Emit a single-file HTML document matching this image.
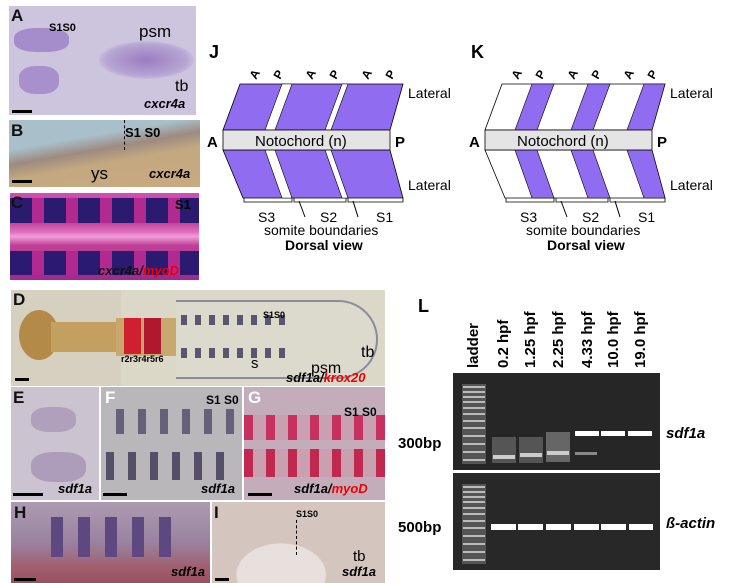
<!DOCTYPE html>
<html><head><meta charset="utf-8"><style>
body{margin:0;width:729px;height:583px;background:#fff;position:relative;overflow:hidden;font-family:"Liberation Sans",Arial,sans-serif}
.p{position:absolute;overflow:hidden}
.t{position:absolute;font-weight:bold;white-space:nowrap}
.lab{position:absolute;font-weight:bold;font-size:17px;color:#111}
.it{font-style:italic;font-weight:bold;font-size:13px;position:absolute;white-space:nowrap}
.bar{position:absolute;height:3px;background:#000}
</style></head><body>

<!-- A -->
<div class="p" style="left:9px;top:6px;width:187px;height:109px;background:#cdc5de">
 <div style="position:absolute;left:90px;top:35px;width:95px;height:38px;border-radius:50%;background:radial-gradient(ellipse,#9a7cc0 0%,#b7a6d4 60%,transparent 75%)"></div>
 <div style="position:absolute;left:5px;top:22px;width:55px;height:24px;border-radius:40%;background:#a58ccb"></div>
 <div style="position:absolute;left:10px;top:60px;width:40px;height:28px;border-radius:40%;background:#a890cc"></div>
 <div class="t" style="left:40px;top:16px;font-size:11px">S1S0</div>
 <div class="t" style="left:130px;top:16px;font-size:17px;font-weight:normal">psm</div>
 <div class="t" style="left:166px;top:72px;font-size:16px;font-weight:normal">tb</div>
 <div class="it" style="left:135px;top:90px">cxcr4a</div>
 <div class="bar" style="left:3px;top:104px;width:20px"></div>
 <div class="lab" style="left:2px;top:0">A</div>
</div>
<!-- B -->
<div class="p" style="left:9px;top:120px;width:191px;height:67px;background:linear-gradient(170deg,#a9c0cc 0%,#a9bfca 30%,#9d8b80 45%,#c4a880 60%,#c8aa80 100%)">
 <div class="t" style="left:116px;top:5px;font-size:13px">S1 S0</div>
 <div style="position:absolute;left:115px;top:0;height:30px;border-left:1px dashed #000"></div>
 <div class="t" style="left:82px;top:44px;font-size:17px;font-weight:normal">ys</div>
 <div class="it" style="left:140px;top:46px">cxcr4a</div>
 <div class="bar" style="left:3px;top:60px;width:20px"></div>
 <div class="lab" style="left:2px;top:1px">B</div>
</div>
<!-- C -->
<div class="p" style="left:10px;top:193px;width:189px;height:87px;background:linear-gradient(180deg,#d050b8 0%,#b8308e 30%,#e070c0 45%,#f0a0d8 50%,#c04098 60%,#a02890 100%)">
 <div style="position:absolute;left:0;top:5px;width:189px;height:25px;background:repeating-linear-gradient(90deg,#2a1a70 0 22px,#b02a90 22px 34px)"></div>
 <div style="position:absolute;left:0;top:58px;width:189px;height:24px;background:repeating-linear-gradient(90deg,#2a1a70 0 22px,#b02a90 22px 34px)"></div>
 <div class="t" style="left:165px;top:4px;font-size:13px">S1</div>
 <div class="it" style="left:88px;top:70px;color:#111">cxcr4a/<span style="color:#e00">myoD</span></div>
 <div class="lab" style="left:1px;top:0">C</div>
</div>
<!-- D -->
<div class="p" style="left:11px;top:290px;width:374px;height:96px;background:#dcd8c8">
 <div style="position:absolute;left:0;top:0;width:110px;height:96px;background:#d6d0c0"></div>
 <div style="position:absolute;left:8px;top:20px;width:40px;height:50px;border-radius:50%;background:#b48a48"></div>
 <div style="position:absolute;left:40px;top:32px;width:70px;height:30px;background:#c4a060"></div>
 <div style="position:absolute;left:105px;top:28px;width:60px;height:38px;background:#c8a86c"></div>
 <div style="position:absolute;left:113px;top:28px;width:17px;height:36px;background:#d02030"></div>
 <div style="position:absolute;left:133px;top:28px;width:17px;height:36px;background:#b01830"></div>
 <div style="position:absolute;left:165px;top:10px;width:200px;height:75px;border-radius:0 40px 40px 0;border:2px solid #8a8aa0;border-left:none;background:#dcdacc"></div>
 <div style="position:absolute;left:170px;top:25px;width:110px;height:10px;background:repeating-linear-gradient(90deg,#5a5670 0 6px,transparent 6px 14px)"></div>
 <div style="position:absolute;left:170px;top:58px;width:110px;height:10px;background:repeating-linear-gradient(90deg,#5a5670 0 6px,transparent 6px 14px)"></div>
 <div class="t" style="left:252px;top:20px;font-size:9px">S1S0</div>
 <div class="t" style="left:110px;top:64px;font-size:9px">r2r3r4r5r6</div>
 <div class="t" style="left:240px;top:65px;font-size:15px;font-weight:normal">s</div>
 <div class="t" style="left:300px;top:70px;font-size:16px;font-weight:normal">psm</div>
 <div class="t" style="left:350px;top:54px;font-size:16px;font-weight:normal">tb</div>
 <div class="it" style="left:275px;top:80px">sdf1a/<span style="color:#e00">krox20</span></div>
 <div class="bar" style="left:4px;top:88px;width:14px"></div>
 <div class="lab" style="left:2px;top:0">D</div>
</div>
<!-- E -->
<div class="p" style="left:11px;top:387px;width:88px;height:113px;background:#cbc3cf">
 <div style="position:absolute;left:20px;top:20px;width:45px;height:25px;border-radius:40%;background:#b0a0bc"></div>
 <div style="position:absolute;left:20px;top:65px;width:55px;height:30px;border-radius:40%;background:#ad9dbb"></div>
 <div class="it" style="left:47px;top:94px">sdf1a</div>
 <div class="bar" style="left:2px;top:106px;width:30px"></div>
 <div class="lab" style="left:2px;top:1px;color:#111">E</div>
</div>
<!-- F -->
<div class="p" style="left:101px;top:387px;width:141px;height:113px;background:#bab7bb">
 <div style="position:absolute;left:15px;top:22px;width:120px;height:25px;background:repeating-linear-gradient(90deg,#66607a 0 8px,transparent 8px 22px)"></div>
 <div style="position:absolute;left:5px;top:65px;width:125px;height:28px;background:repeating-linear-gradient(90deg,#55506a 0 8px,transparent 8px 22px)"></div>
 <div class="t" style="left:105px;top:6px;font-size:12px">S1 S0</div>
 <div class="it" style="left:100px;top:94px">sdf1a</div>
 <div class="bar" style="left:2px;top:106px;width:24px"></div>
 <div class="lab" style="left:4px;top:1px;color:#fff">F</div>
</div>
<!-- G -->
<div class="p" style="left:244px;top:387px;width:141px;height:113px;background:#c3adbb">
 <div style="position:absolute;left:0;top:28px;width:141px;height:25px;background:repeating-linear-gradient(90deg,#c83060 0 9px,#c8a0b0 9px 22px)"></div>
 <div style="position:absolute;left:0;top:62px;width:141px;height:28px;background:repeating-linear-gradient(90deg,#c02850 0 9px,#c8a0b0 9px 22px)"></div>
 <div class="t" style="left:100px;top:18px;font-size:12px">S1 S0</div>
 <div class="it" style="left:50px;top:94px">sdf1a/<span style="color:#e00">myoD</span></div>
 <div class="bar" style="left:4px;top:106px;width:24px"></div>
 <div class="lab" style="left:4px;top:1px;color:#fff">G</div>
</div>
<!-- H -->
<div class="p" style="left:11px;top:502px;width:199px;height:81px;background:linear-gradient(180deg,#ad9bb0 0%,#9a82a0 50%,#a06070 80%,#9a5060 100%)">
 <div style="position:absolute;left:40px;top:15px;width:130px;height:40px;background:repeating-linear-gradient(90deg,#5e4880 0 12px,transparent 12px 27px)"></div>
 <div class="it" style="left:160px;top:62px">sdf1a</div>
 <div class="bar" style="left:3px;top:76px;width:22px"></div>
 <div class="lab" style="left:3px;top:1px">H</div>
</div>
<!-- I -->
<div class="p" style="left:212px;top:502px;width:173px;height:81px;background:#d4c6bf">
 <div style="position:absolute;left:0;top:0;width:173px;height:81px;background:radial-gradient(ellipse at 40% 90%,#e8e0dc 0 30%,transparent 31%)"></div>
 <div class="t" style="left:84px;top:7px;font-size:9px">S1S0</div>
 <div style="position:absolute;left:84px;top:18px;height:35px;border-left:1px dashed #000"></div>
 <div class="t" style="left:141px;top:46px;font-size:15px;font-weight:normal">tb</div>
 <div class="it" style="left:130px;top:62px">sdf1a</div>
 <div class="bar" style="left:3px;top:76px;width:14px"></div>
 <div class="lab" style="left:2px;top:1px">I</div>
</div>

<!-- J & K diagrams -->
<svg style="position:absolute;left:0;top:0" width="729" height="583" font-family="Liberation Sans,Arial,sans-serif">
 <g id="J">
  <text x="209" y="58" font-size="18" font-weight="bold">J</text>
  <polygon points="240,84 403,84 390,130 223,130" fill="#8f6cf0" stroke="#000" stroke-width="0.8"/>
  <polygon points="282,84 292,84 275,130 265,130" fill="#fff" stroke="#000" stroke-width="0.6"/>
  <polygon points="342,84 348,84 331,130 325,130" fill="#fff" stroke="#000" stroke-width="0.6"/>
  <polygon points="223,150 390,150 403,198 243,198" fill="#8f6cf0" stroke="#000" stroke-width="0.8"/>
  <polygon points="265,150 275,150 292,198 282,198" fill="#fff" stroke="#000" stroke-width="0.6"/>
  <polygon points="325,150 331,150 348,198 342,198" fill="#fff" stroke="#000" stroke-width="0.6"/>
  <rect x="223" y="130" width="167" height="20" fill="#e4e4e4" stroke="#000" stroke-width="0.8"/>
  <text x="255" y="146" font-size="15">Notochord (n)</text>
  <text x="207" y="147" font-size="15" font-weight="bold">A</text>
  <text x="395" y="147" font-size="15" font-weight="bold">P</text>
  <text x="408" y="98" font-size="14">Lateral</text>
  <text x="408" y="190" font-size="14">Lateral</text>
  <g font-size="12" font-weight="bold">
   <text transform="translate(256,80) rotate(-60)">A</text><text transform="translate(280,80) rotate(-60)">P</text>
   <text transform="translate(312,80) rotate(-60)">A</text><text transform="translate(336,80) rotate(-60)">P</text>
   <text transform="translate(368,80) rotate(-60)">A</text><text transform="translate(392,80) rotate(-60)">P</text>
  </g>
  <path d="M244,198 v4 h48 v-4 M294,198 v4 h52 v-4 M348,198 v4 h55 v-4" fill="none" stroke="#000" stroke-width="0.8"/>
  <text x="258" y="222" font-size="14">S3</text><text x="320" y="222" font-size="14">S2</text><text x="376" y="222" font-size="14">S1</text>
  <line x1="305" y1="217" x2="299" y2="201" stroke="#000"/><line x1="358" y1="217" x2="353" y2="201" stroke="#000"/>
  <text x="264" y="235" font-size="14">somite boundaries</text>
  <text x="285" y="250" font-size="14" font-weight="bold">Dorsal view</text>
 </g>
 <g id="K" transform="translate(262,0)">
  <text x="209" y="58" font-size="18" font-weight="bold">K</text>
  <polygon points="240,84 403,84 390,130 223,130" fill="#fff" stroke="#000" stroke-width="0.8"/>
  <polygon points="270,84 292,84 275,130 253,130" fill="#8f6cf0" stroke="#000" stroke-width="0.6"/>
  <polygon points="326,84 348,84 331,130 309,130" fill="#8f6cf0" stroke="#000" stroke-width="0.6"/>
  <polygon points="382,84 403,84 390,130 365,130" fill="#8f6cf0" stroke="#000" stroke-width="0.6"/>
  <polygon points="223,150 390,150 403,198 243,198" fill="#fff" stroke="#000" stroke-width="0.8"/>
  <polygon points="253,150 275,150 292,198 270,198" fill="#8f6cf0" stroke="#000" stroke-width="0.6"/>
  <polygon points="309,150 331,150 348,198 326,198" fill="#8f6cf0" stroke="#000" stroke-width="0.6"/>
  <polygon points="365,150 390,150 403,198 382,198" fill="#8f6cf0" stroke="#000" stroke-width="0.6"/>
  <rect x="223" y="130" width="167" height="20" fill="#e4e4e4" stroke="#000" stroke-width="0.8"/>
  <text x="255" y="146" font-size="15">Notochord (n)</text>
  <text x="207" y="147" font-size="15" font-weight="bold">A</text>
  <text x="395" y="147" font-size="15" font-weight="bold">P</text>
  <text x="408" y="98" font-size="14">Lateral</text>
  <text x="408" y="190" font-size="14">Lateral</text>
  <g font-size="12" font-weight="bold">
   <text transform="translate(256,80) rotate(-60)">A</text><text transform="translate(280,80) rotate(-60)">P</text>
   <text transform="translate(312,80) rotate(-60)">A</text><text transform="translate(336,80) rotate(-60)">P</text>
   <text transform="translate(368,80) rotate(-60)">A</text><text transform="translate(392,80) rotate(-60)">P</text>
  </g>
  <path d="M244,198 v4 h48 v-4 M294,198 v4 h52 v-4 M348,198 v4 h55 v-4" fill="none" stroke="#000" stroke-width="0.8"/>
  <text x="258" y="222" font-size="14">S3</text><text x="320" y="222" font-size="14">S2</text><text x="376" y="222" font-size="14">S1</text>
  <line x1="305" y1="217" x2="299" y2="201" stroke="#000"/><line x1="358" y1="217" x2="353" y2="201" stroke="#000"/>
  <text x="264" y="235" font-size="14">somite boundaries</text>
  <text x="285" y="250" font-size="14" font-weight="bold">Dorsal view</text>
 </g>

 <!-- L gel -->
 <text x="418" y="312" font-size="18" font-weight="bold">L</text>
 <g font-size="15" font-weight="bold">
  <text transform="translate(478,368) rotate(-90)">ladder</text>
  <text transform="translate(508,368) rotate(-90)">0.2  hpf</text>
  <text transform="translate(535,368) rotate(-90)">1.25 hpf</text>
  <text transform="translate(563,368) rotate(-90)">2.25 hpf</text>
  <text transform="translate(592,368) rotate(-90)">4.33 hpf</text>
  <text transform="translate(618,368) rotate(-90)">10.0 hpf</text>
  <text transform="translate(645,368) rotate(-90)">19.0 hpf</text>
 </g>
 <rect x="453" y="373" width="207" height="97" fill="#262626"/>
 <rect x="453" y="473" width="207" height="97" fill="#282828"/>
 <g fill="#bbb">
  <rect x="462" y="384" width="24" height="80" fill="#555"/>
  <rect x="462" y="484" width="24" height="80" fill="#555"/>
 </g>
 <g stroke="#ddd" stroke-width="1.5">
  <path d="M463,387h22M463,392h22M463,397h22M463,402h22M463,408h22M463,414h22M463,421h22M463,428h22M463,436h22M463,444h22M463,452h22M463,460h22"/>
  <path d="M463,487h22M463,492h22M463,497h22M463,502h22M463,508h22M463,514h22M463,521h22M463,528h22M463,536h22M463,544h22M463,552h22M463,560h22"/>
 </g>
 <g fill="#555">
  <rect x="492" y="437" width="24" height="26"/><rect x="519" y="437" width="24" height="26"/><rect x="546" y="432" width="24" height="30" fill="#666"/>
 </g>
 <g fill="#ccc">
  <rect x="493" y="455" width="22" height="4"/><rect x="520" y="453" width="22" height="4"/><rect x="547" y="451" width="22" height="4"/><rect x="575" y="452" width="22" height="3" fill="#888"/>
 </g>
 <g fill="#fff">
  <rect x="575" y="431" width="24" height="5"/><rect x="601" y="431" width="24" height="5"/><rect x="628" y="431" width="24" height="5"/>
  <rect x="491" y="524" width="25" height="6"/><rect x="518" y="524" width="25" height="6"/><rect x="546" y="524" width="25" height="6"/><rect x="574" y="524" width="25" height="6"/><rect x="601" y="524" width="25" height="6"/><rect x="629" y="524" width="24" height="6"/>
 </g>
 <text x="398" y="448" font-size="15" font-weight="bold">300bp</text>
 <text x="398" y="532" font-size="15" font-weight="bold">500bp</text>
 <text x="666" y="438" font-size="15" font-weight="bold" font-style="italic">sdf1a</text>
 <text x="666" y="528" font-size="15" font-weight="bold" font-style="italic">ß-actin</text>
</svg>
</body></html>
